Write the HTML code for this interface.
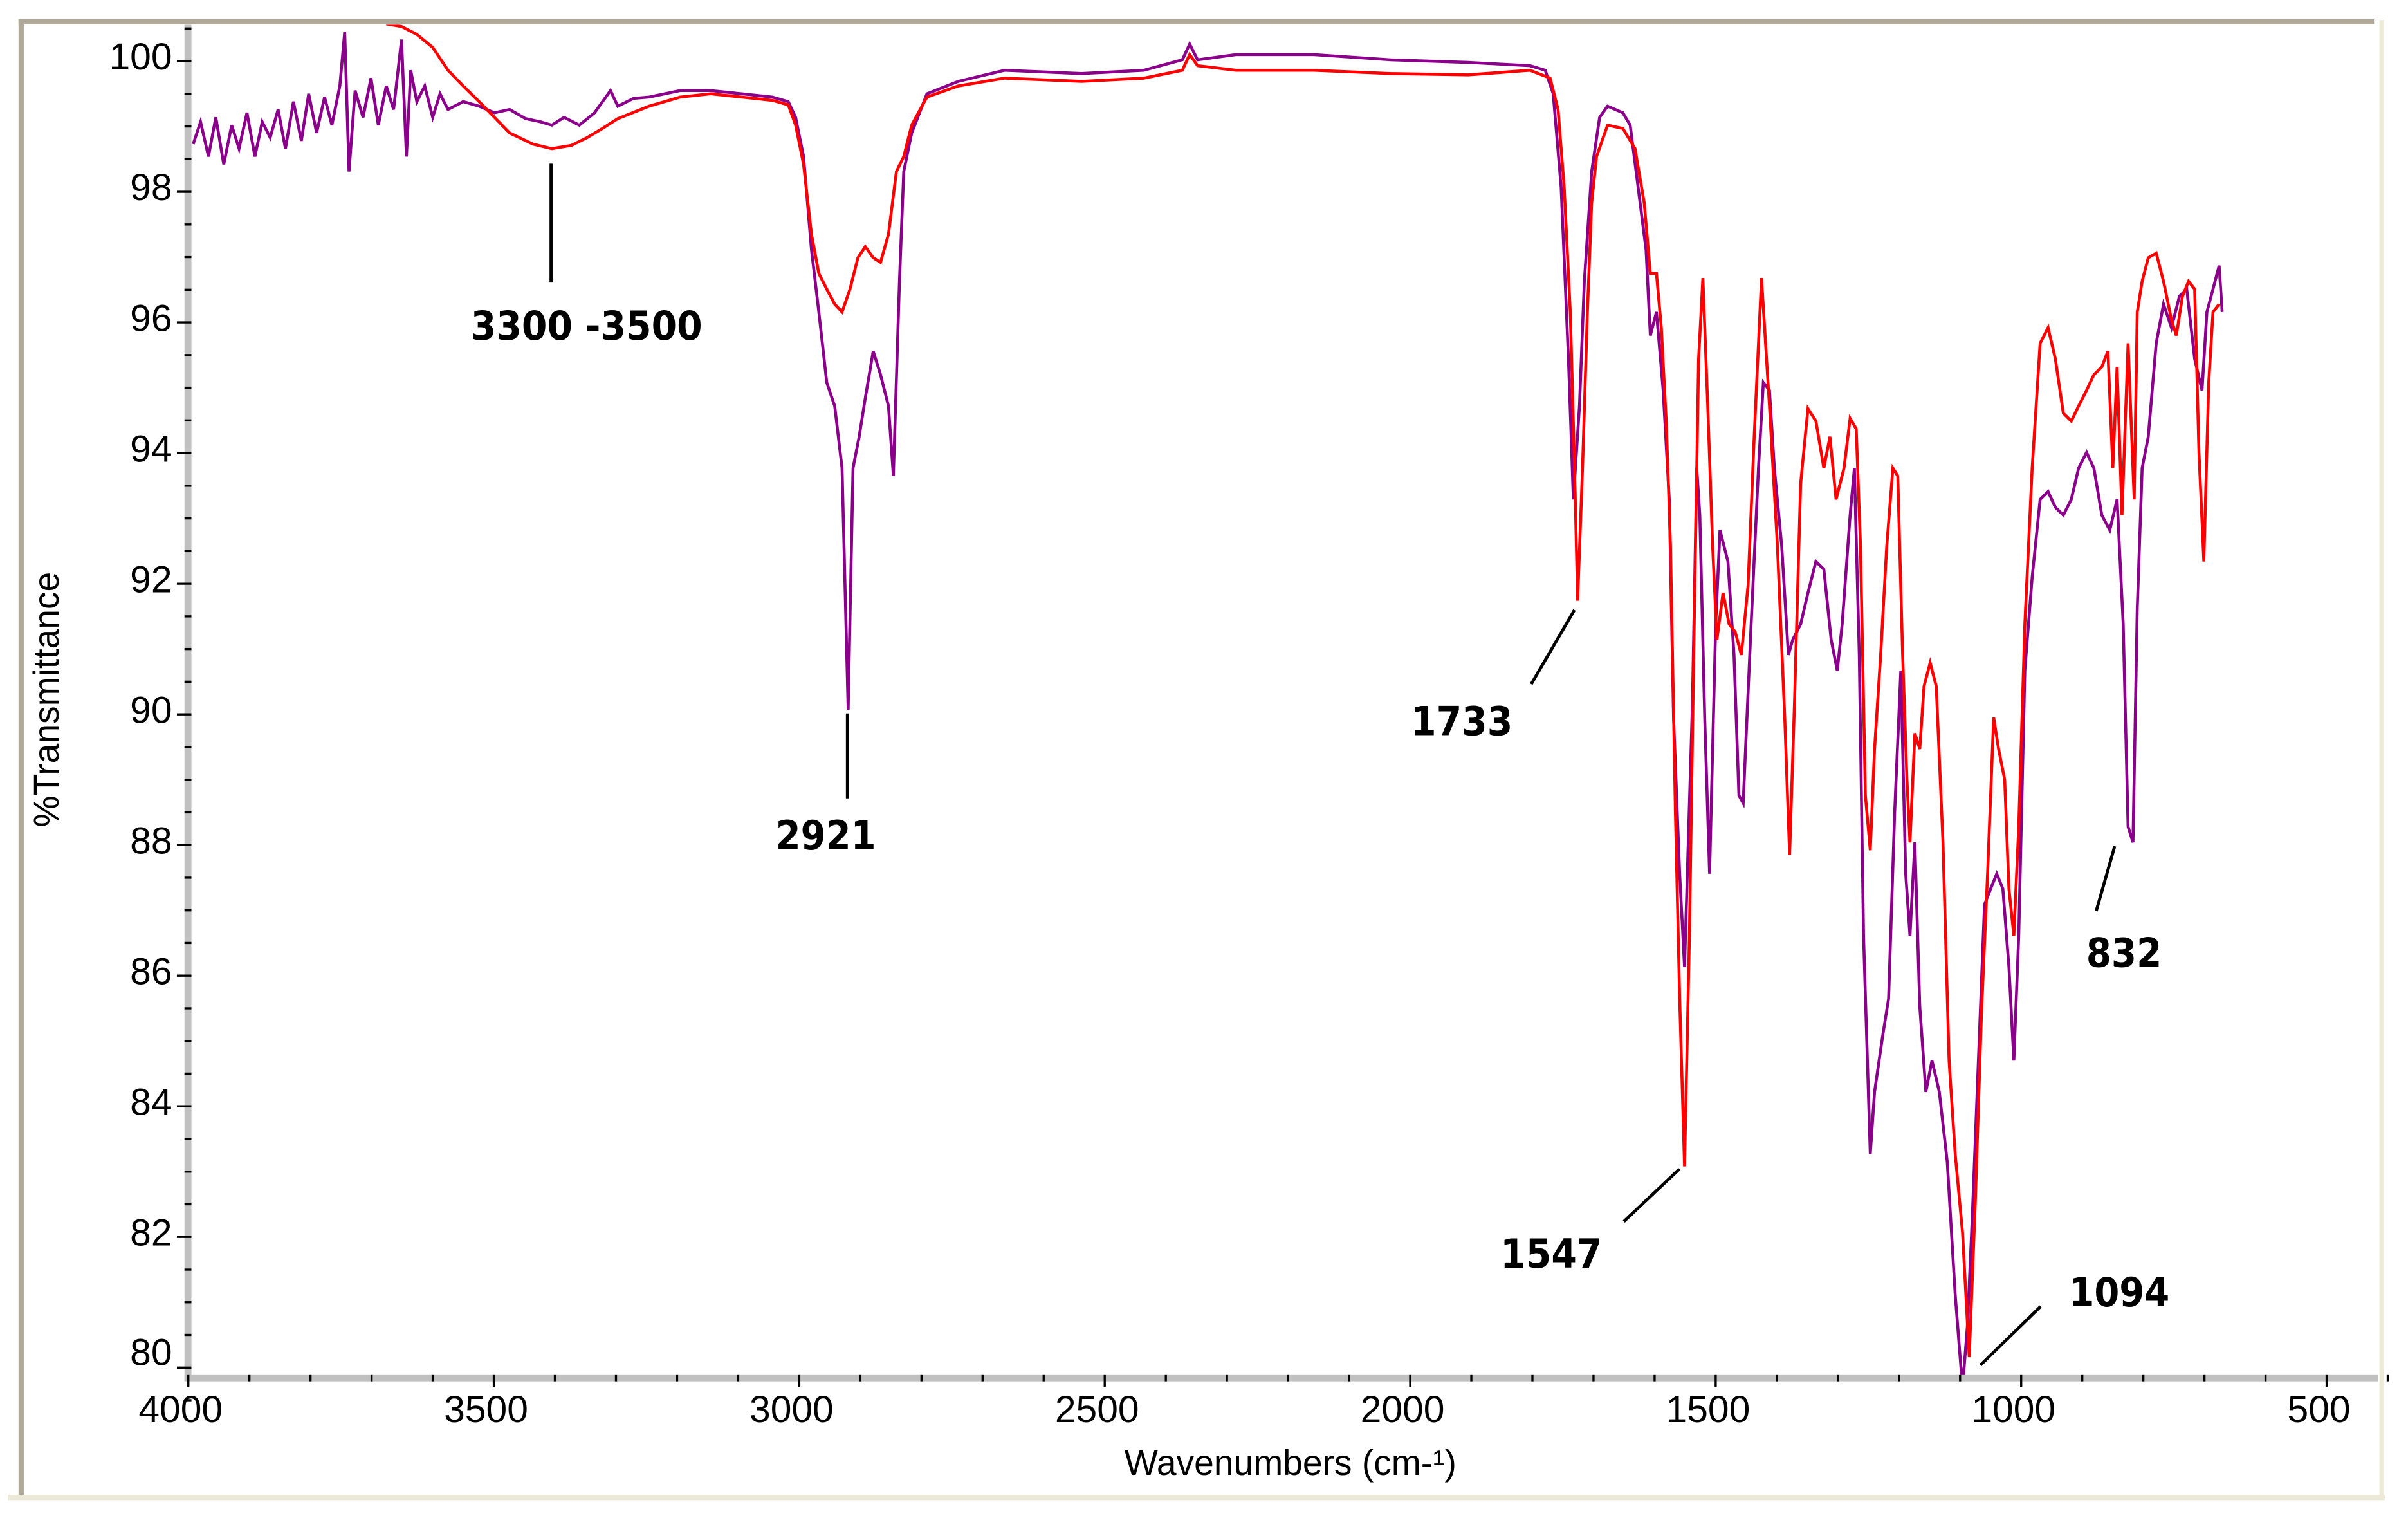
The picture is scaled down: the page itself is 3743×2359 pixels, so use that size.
<!DOCTYPE html>
<html><head><meta charset="utf-8"><style>
html,body{margin:0;padding:0;background:#fff;}
svg{display:block;}
text{font-family:"Liberation Sans",Arial,sans-serif;}
.ann{font-family:"DejaVu Sans","Liberation Sans",sans-serif;font-weight:bold;}
</style></head><body>
<svg id="chart" width="3743" height="2359" viewBox="0 0 1560 983" preserveAspectRatio="none" xmlns="http://www.w3.org/2000/svg">
<rect x="0" y="0" width="1560" height="983" fill="#fff"/>
<rect x="12" y="12.5" width="1526" height="3.3" fill="#b0a898"/>
<rect x="12" y="12.5" width="3.4" height="956" fill="#b0a898"/>
<rect x="1541.5" y="13" width="3" height="958" fill="#ece9d8"/>
<rect x="5" y="968" width="1540" height="3.5" fill="#ece9d8"/>
<g id="axes"></g>
<defs><clipPath id="plotclip"><rect x="124" y="16" width="1420" height="874"/></clipPath></defs>
<g id="series" clip-path="url(#plotclip)"></g>
<g id="annots"></g>
<text x="836" y="955" font-size="23" text-anchor="middle">Wavenumbers (cm-¹)</text>
<text transform="translate(38,453) rotate(-90)" font-size="23" text-anchor="middle">%Transmittance</text>
</svg>
<script>
const xTicks=[4000,3500,3000,2500,2000,1500,1000,500];
const yTicks=[80,82,84,86,88,90,92,94,96,98,100];
const purpleW=[3992,3980,3967,3955,3942,3929,3917,3904,3891,3879,3866,3853,3841,3828,3815,3803,3790,3777,3765,3752,3744,3737,3727,3714,3701,3689,3676,3664,3651,3643,3636,3626,3613,3600,3588,3575,3550,3524,3499,3474,3448,3423,3405,3385,3360,3335,3309,3297,3271,3246,3195,3145,3094,3044,3018,3006,2993,2980,2968,2955,2942,2930,2920,2912,2902,2892,2879,2867,2854,2846,2836,2829,2816,2791,2740,2664,2538,2436,2373,2361,2348,2285,2158,2032,1905,1804,1779,1766,1753,1741,1733,1723,1715,1703,1690,1677,1652,1640,1627,1614,1607,1597,1586,1576,1569,1559,1551,1538,1531,1526,1518,1510,1500,1493,1480,1470,1462,1455,1450,1442,1430,1422,1412,1404,1392,1381,1374,1361,1349,1336,1323,1311,1301,1293,1280,1273,1265,1258,1247,1240,1227,1217,1207,1197,1189,1182,1174,1166,1156,1146,1134,1121,1108,1096,1088,1080,1070,1060,1050,1040,1030,1020,1012,1004,994,982,969,956,944,931,918,906,893,881,868,855,843,833,825,817,810,802,792,779,767,754,741,729,716,704,696,686,676,671];
const purpleT=[98.73,99.07,98.54,99.14,98.42,99.02,98.66,99.21,98.54,99.07,98.83,99.26,98.66,99.38,98.78,99.50,98.90,99.45,99.02,99.62,100.45,98.31,99.55,99.14,99.74,99.02,99.62,99.26,100.33,98.54,99.86,99.38,99.62,99.14,99.50,99.26,99.38,99.31,99.21,99.26,99.12,99.07,99.02,99.14,99.02,99.21,99.55,99.31,99.43,99.45,99.55,99.55,99.50,99.45,99.38,99.14,98.54,97.11,96.16,95.08,94.72,93.77,90.07,93.77,94.25,94.84,95.56,95.20,94.72,93.65,96.63,98.31,98.90,99.50,99.69,99.86,99.81,99.86,100.02,100.26,100.02,100.10,100.10,100.02,99.98,99.93,99.86,99.50,98.07,95.44,93.29,94.72,96.63,98.31,99.14,99.31,99.21,99.02,98.07,97.11,95.80,96.16,94.96,93.29,89.95,87.56,86.13,90.19,93.77,93.05,89.95,87.56,91.38,92.82,92.34,90.91,88.76,88.64,89.71,91.38,93.77,95.08,94.96,93.77,92.58,90.91,91.14,91.38,91.86,92.34,92.22,91.14,90.67,91.38,93.05,93.77,90.91,86.61,83.27,84.22,85.06,85.65,88.52,90.67,87.56,86.61,88.04,85.53,84.22,84.70,84.22,83.15,81.12,79.69,80.64,82.31,84.70,87.09,87.33,87.56,87.33,86.13,84.70,86.61,90.67,92.10,93.29,93.41,93.17,93.05,93.29,93.77,94.01,93.77,93.05,92.82,93.29,91.38,88.28,88.04,91.62,93.77,94.25,95.68,96.28,95.92,96.40,96.51,95.44,94.96,96.16,96.51,96.87,96.16];
const redW=[3676,3651,3626,3600,3575,3550,3524,3499,3474,3436,3405,3373,3347,3322,3297,3246,3195,3145,3094,3044,3018,3006,2993,2980,2968,2955,2942,2930,2917,2904,2892,2879,2867,2854,2841,2829,2816,2791,2740,2664,2538,2436,2373,2361,2348,2285,2158,2032,1905,1804,1771,1758,1748,1738,1731,1726,1718,1710,1703,1695,1677,1652,1632,1617,1607,1597,1589,1581,1574,1566,1559,1551,1543,1536,1528,1521,1513,1505,1498,1488,1478,1468,1458,1447,1437,1425,1412,1399,1387,1379,1371,1361,1349,1336,1323,1313,1303,1290,1280,1270,1263,1255,1247,1240,1230,1220,1210,1202,1194,1187,1182,1174,1166,1159,1149,1139,1128,1118,1108,1096,1085,1075,1065,1055,1045,1037,1027,1020,1012,1004,994,982,969,956,944,931,918,906,893,881,868,858,850,843,835,825,815,810,802,792,779,767,754,746,736,726,716,709,701,693,686,676];
const redT=[100.57,100.53,100.41,100.21,99.86,99.62,99.38,99.14,98.90,98.73,98.66,98.71,98.83,98.97,99.12,99.31,99.45,99.50,99.45,99.40,99.33,99.02,98.42,97.35,96.75,96.51,96.28,96.16,96.51,96.99,97.16,96.99,96.92,97.35,98.31,98.54,99.02,99.45,99.62,99.74,99.69,99.74,99.86,100.10,99.93,99.86,99.86,99.81,99.79,99.86,99.74,99.26,98.07,96.16,93.77,91.74,93.77,96.16,97.83,98.54,99.02,98.97,98.66,97.83,96.75,96.75,95.92,94.49,92.58,88.52,85.65,83.08,86.61,90.91,95.44,96.68,94.72,92.58,91.14,91.86,91.38,91.26,90.91,91.98,94.25,96.68,94.72,92.58,89.95,87.85,90.19,93.53,94.68,94.49,93.77,94.25,93.29,93.77,94.53,94.37,92.58,88.76,87.92,89.47,90.91,92.58,93.77,93.65,90.91,89.00,88.04,89.71,89.47,90.43,90.79,90.43,88.04,84.70,83.27,82.07,80.16,82.55,85.42,87.56,89.95,89.47,89.00,87.33,86.61,88.28,91.38,93.77,95.68,95.92,95.44,94.61,94.49,94.72,94.96,95.20,95.32,95.56,93.77,95.32,93.05,95.68,93.29,96.16,96.63,96.99,97.06,96.63,96.04,95.80,96.40,96.63,96.51,94.01,92.34,95.08,96.16,96.28];
const annLabels=["3300 -3500","2921","1733","1547","1094","832"];

const NS="http://www.w3.org/2000/svg";
function xs(w){return 122+(4000-w)*0.3958;}
function ys(t){return 885.6-(t-80)*42.3;}
function mk(tag,attrs,parent){const e=document.createElementNS(NS,tag);for(const k in attrs)e.setAttribute(k,attrs[k]);parent.appendChild(e);return e;}
const axes=document.getElementById('axes');
const yband=mk('rect',{x:119.5,y:16,width:4.5,height:878,fill:'#c0c0c0'},axes);


for(let t=79.5;t<=100.5;t+=0.5){
  const major=Math.abs(t-Math.round(t/2)*2)<1e-6 && t>=80;
  const tk=mk('line',{x1:major?114.6:119.5,x2:124,y1:ys(t),y2:ys(t),stroke:'#000','stroke-width':1.4},axes);
  
  
}
yTicks.forEach(v=>{
  const off=(v===80)?-10:-3;
  const tx=mk('text',{x:111.5,y:ys(v)+off+8.5,'font-size':24.5,'text-anchor':'end'},axes);
  tx.textContent=String(v);
  
  
});
const xband=mk('rect',{x:119.5,y:890,width:1421,height:4.5,fill:'#c0c0c0'},axes);


for(let w=4000;w>=400;w-=100){
  const major=(w%500===0);
  const tk=mk('line',{x1:xs(w),x2:xs(w),y1:890,y2:major?898:894.5,stroke:'#000','stroke-width':1.4},axes);
  
  
}
xTicks.forEach(v=>{
  const tx=mk('text',{x:xs(v)-5,y:921,'font-size':24.5,'text-anchor':'middle'},axes);
  tx.textContent=String(v);
  
  
});
const sg=document.getElementById('series');
function drawSeries(W,T,color,name){
  let d='';
  for(let i=0;i<W.length;i++){d+=(i?'L':'M')+xs(W[i]).toFixed(2)+' '+ys(T[i]).toFixed(2);}
  const p=mk('path',{d:d,fill:'none',stroke:color,'stroke-width':1.9,'stroke-linejoin':'miter'},sg);
  
  
}
drawSeries(purpleW,purpleT,'#8b008b','purple-spectrum-line');
drawSeries(redW,redT,'#ff0000','red-spectrum-line');
const ag=document.getElementById('annots');
const annPos=[[380,220,150],[535,550,65],[947,476,66],[1005,821,66],[1373,846,65],[1376,626,49]];
const annLines=[[357,106,357,183],[549,462,549,517],[992,443,1020,395],[1052,791,1088,757],[1283,884,1322,846],[1358,590,1370,548]];
annLabels.forEach((s,i)=>{
  const t=mk('text',{x:annPos[i][0],y:annPos[i][1],'font-size':26,'text-anchor':'middle',textLength:annPos[i][2],lengthAdjust:'spacingAndGlyphs','class':'ann'},ag);
  t.textContent=s;
  
  
  const l=mk('line',{x1:annLines[i][0],y1:annLines[i][1],x2:annLines[i][2],y2:annLines[i][3],stroke:'#000','stroke-width':2},ag);
  
  
});
</script>
</body></html>
